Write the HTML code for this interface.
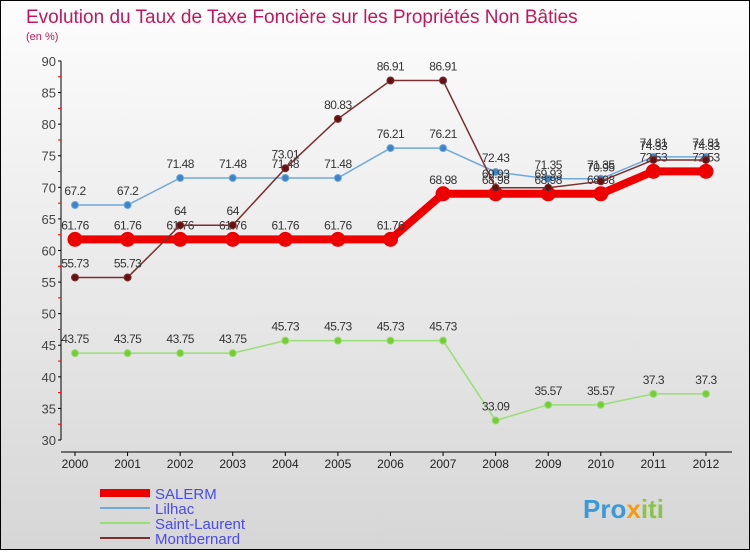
<!DOCTYPE html>
<html><head><meta charset="utf-8"><style>
body{margin:0;width:750px;height:550px;overflow:hidden;font-family:"Liberation Sans",sans-serif}
</style></head><body>
<svg id="chart" width="750" height="550" xmlns="http://www.w3.org/2000/svg">
<defs><linearGradient id="bg" x1="0" y1="0" x2="0" y2="1"><stop offset="0" stop-color="#fdfdfd"/><stop offset="1" stop-color="#d6d6d6"/></linearGradient></defs>
<rect x="0.5" y="0.5" width="749" height="549" fill="url(#bg)" stroke="#000"/>
<text x="26" y="23" font-size="19" fill="#c2185b">Evolution du Taux de Taxe Foncière sur les Propriétés Non Bâties</text>
<text x="26" y="40" font-size="11" fill="#c2185b">(en %)</text>
<g id="axes"></g><g id="series"></g><g id="legend"></g>
<text x="583" y="518" font-size="26" font-weight="bold" fill="#3a9ad9">Pro<tspan fill="#f39c12">x</tspan><tspan fill="#8bc34a">iti</tspan></text>
</svg>
<script>
const years=["2000","2001","2002","2003","2004","2005","2006","2007","2008","2009","2010","2011","2012"];
const yTicks=[30,35,40,45,50,55,60,65,70,75,80,85,90];
const salerm=[61.76,61.76,61.76,61.76,61.76,61.76,61.76,68.98,68.98,68.98,68.98,72.53,72.53];
const lilhac=[67.2,67.2,71.48,71.48,71.48,71.48,76.21,76.21,72.43,71.35,71.35,74.81,74.81];
const saintLaurent=[43.75,43.75,43.75,43.75,45.73,45.73,45.73,45.73,33.09,35.57,35.57,37.3,37.3];
const montbernard=[55.73,55.73,64,64,73.01,80.83,86.91,86.91,69.93,69.93,70.95,74.33,74.33];
const NS="http://www.w3.org/2000/svg";
const X=i=>75+i*52.58, Y=v=>440-(v-30)*6.317;
function mk(p,t,a){const e=document.createElementNS(NS,t);for(const k in a)e.setAttribute(k,a[k]);p.appendChild(e);return e;}
const ax=document.getElementById('axes');
const yl=mk(ax,'line',{x1:61,y1:Y(90),x2:61,y2:Y(30),stroke:'#000'});


const xl=mk(ax,'line',{x1:61,y1:452,x2:732,y2:452,stroke:'#000'});


yTicks.forEach(v=>{mk(ax,'line',{x1:58,x2:61,y1:Y(v),y2:Y(v),stroke:'#000'});
if(v<90)mk(ax,'line',{x1:58,x2:61,y1:Y(v+2.5),y2:Y(v+2.5),stroke:'#e00'});
const t=mk(ax,'text',{x:56,y:Y(v)+5,'text-anchor':'end','font-size':13,fill:'#444'});t.textContent=v;

});
years.forEach((y,i)=>{mk(ax,'line',{x1:X(i),x2:X(i),y1:452,y2:456,stroke:'#000'});
const t=mk(ax,'text',{x:X(i),y:468,'text-anchor':'middle','font-size':12,fill:'#222'});t.textContent=y;

});
const sg=document.getElementById('series');
function draw(data,color,w,r,name,dot){const g=mk(sg,'g',{});


mk(g,'polyline',{points:data.map((v,i)=>X(i)+','+Y(v)).join(' '),fill:'none',stroke:color,'stroke-width':w});
data.forEach((v,i)=>{const c=mk(g,'circle',{cx:X(i),cy:Y(v),r:r,fill:dot,stroke:color,'stroke-width':1});


const t=mk(g,'text',{x:X(i),y:Y(v)-10,'text-anchor':'middle','font-size':12,fill:'#333','letter-spacing':'-0.5'});t.textContent=String(v);

});}
draw(saintLaurent,'#99dd77',1.5,3.5,'saint-laurent','#77cc33');
draw(lilhac,'#6fa8dc',1.5,3.5,'lilhac','#3d85c6');
draw(salerm,'#ee0000',8,7,'salerm','#ee0000');
draw(montbernard,'#7a3030',1.5,3.5,'montbernard','#661111');
const lg=document.getElementById('legend');
[['SALERM','#ee0000',8],['Lilhac','#6fa8dc',2],['Saint-Laurent','#99dd77',2],['Montbernard','#7a3030',2]].forEach((d,i)=>{
const y=493+i*15;const g=mk(lg,'g',{});


mk(g,'line',{x1:100,x2:150,y1:y,y2:y,stroke:d[1],'stroke-width':d[2]});
const t=mk(g,'text',{x:155,y:y+6,'font-size':15,fill:'#4a4aee'});t.textContent=d[0];});
</script>
</body></html>
